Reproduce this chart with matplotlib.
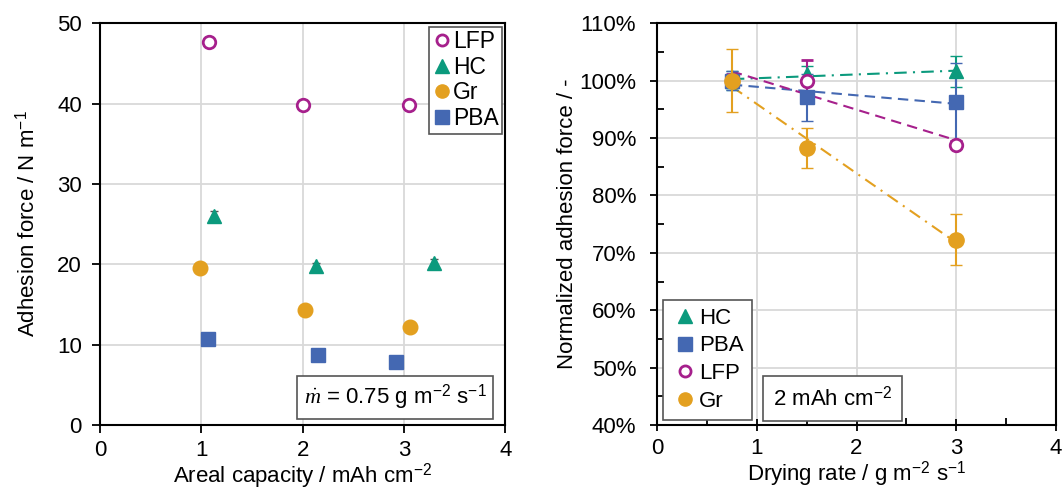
import numpy as np
import matplotlib
matplotlib.use("Agg")
import matplotlib.pyplot as plt
from matplotlib.lines import Line2D
from matplotlib.ticker import MultipleLocator, PercentFormatter

plt.rcParams['font.family'] = ['Liberation Sans', 'DejaVu Sans']
plt.rcParams['font.size'] = 16
plt.rcParams['mathtext.fontset'] = 'custom'
plt.rcParams['mathtext.rm'] = 'Liberation Sans'
plt.rcParams['mathtext.it'] = 'Liberation Serif:italic'

# colours
c_lfp = '#A6208C'
c_hc = '#0B9A7D'
c_gr = '#E3A020'
c_pba = '#4468B2'

# left panel: adhesion force vs areal capacity
lfp_cap = [1.08, 2.00, 3.05]
lfp_force = [47.6, 39.8, 39.8]
hc_cap = [1.12, 2.13, 3.30]
hc_force = [26.0, 19.8, 20.1]
hc_err = [0.6, 0.3, 0.5]
gr_cap = [0.99, 2.02, 3.06]
gr_force = [19.6, 14.3, 12.2]
pba_cap = [1.07, 2.15, 2.92]
pba_force = [10.7, 8.7, 7.9]

# right panel: normalized adhesion vs drying rate
rate = [0.75, 1.5, 3.0]
hc_norm = [100.0, 101.1, 101.6]
hc_norm_err = [1.6, 1.5, 2.7]
pba_norm = [100.0, 97.1, 96.3]
pba_norm_err = [1.7, 4.1, 6.8]
lfp_norm = [100.0, 100.0, 88.8]
lfp_norm_err = [1.2, 3.6, 0.6]
gr_norm = [100.0, 88.3, 72.3]
gr_norm_err = [5.5, 3.5, 4.5]

fig = plt.figure(figsize=(10.64, 4.92), dpi=100)
ax1 = fig.add_axes([0.094, 0.136, 0.381, 0.817])
ax2 = fig.add_axes([0.6175, 0.136, 0.375, 0.817])

for ax in (ax1, ax2):
    ax.grid(True, color='#d9d9d9', linewidth=1.3)
    ax.set_axisbelow(True)
    for s in ax.spines.values():
        s.set_linewidth(1.5)
        s.set_color('black')

ms = 9.5
ax1.errorbar(hc_cap, hc_force, yerr=hc_err, fmt='none', ecolor='#555555',
             elinewidth=1, capsize=3, zorder=2)
ax1.plot(lfp_cap, lfp_force, 'o', mfc='white', mec=c_lfp, mew=2, ms=ms - 0.5, zorder=3)
ax1.plot(hc_cap, hc_force, '^', color=c_hc, ms=ms, zorder=3)
ax1.plot(gr_cap, gr_force, 'o', color=c_gr, ms=ms + 1, zorder=3)
ax1.plot(pba_cap, pba_force, 's', color=c_pba, ms=ms, zorder=3)

ax1.set_xlim(0, 4)
ax1.set_ylim(0, 50)
ax1.xaxis.set_major_locator(MultipleLocator(1))
ax1.yaxis.set_major_locator(MultipleLocator(10))
ax1.tick_params(direction='out', length=6, width=1.3, pad=7)
ax1.tick_params(axis='x', pad=5)
ax1.set_xlabel('Areal capacity / mAh cm$^{-2}$', labelpad=0)
ax1.set_ylabel('Adhesion force / N m$^{-1}$', labelpad=13)


def handle(col, mk, hollow=False, size=ms):
    if hollow:
        return Line2D([], [], ls='none', marker=mk, mfc='white', mec=col, mew=2, ms=size - 1.5)
    return Line2D([], [], ls='none', marker=mk, color=col, ms=size)


h_lfp = handle(c_lfp, 'o', hollow=True)
h_hc = handle(c_hc, '^')
h_gr = handle(c_gr, 'o')
h_pba = handle(c_pba, 's')

leg1 = ax1.legend([h_lfp, h_hc, h_gr, h_pba], ['LFP', 'HC', 'Gr', 'PBA'], loc='upper right',
                  handletextpad=0.0, labelspacing=0.12, borderpad=0.15, handlelength=0.9,
                  fancybox=False, edgecolor='#555555', framealpha=1, borderaxespad=0.15,
                  fontsize=16.5)
leg1.get_frame().set_linewidth(1.2)
ax1.text(0.728, 0.069, r'$\dot{\mathit{m}}$ = 0.75 g m$^{-2}$ s$^{-1}$', transform=ax1.transAxes,
         ha='center', va='center', fontsize=16,
         bbox=dict(boxstyle='square,pad=0.3', fc='white', ec='#555555', lw=1.2))

# right panel with linear trend lines
xfit = np.array([min(rate), max(rate)])
series = [
    ('HC', hc_norm, hc_norm_err, c_hc, '^', (0, (6, 3, 1, 3))),
    ('PBA', pba_norm, pba_norm_err, c_pba, 's', (0, (5, 3))),
    ('LFP', lfp_norm, lfp_norm_err, c_lfp, 'o', (0, (5, 3))),
    ('Gr', gr_norm, gr_norm_err, c_gr, 'o', (0, (6, 3, 1, 3))),
]
for name, y, err, col, mk, ls in series:
    k, b = np.polyfit(rate, y, 1)
    ax2.plot(xfit, k * xfit + b, color=col, linestyle=ls, linewidth=1.5, zorder=2)
    if name == 'LFP':
        ax2.errorbar(rate, y, yerr=err, fmt=mk, mfc='white', mec=col, mew=2, ecolor=col,
                     elinewidth=1.5, capsize=4, ms=ms - 0.5, zorder=3)
    else:
        ax2.errorbar(rate, y, yerr=err, fmt=mk, color=col, ecolor=col,
                     elinewidth=1.5, capsize=4, ms=ms + (1.5 if name == 'Gr' else 0.5), zorder=3)

ax2.set_xlim(0, 4)
ax2.set_ylim(40, 110)
ax2.xaxis.set_major_locator(MultipleLocator(1))
ax2.xaxis.set_minor_locator(MultipleLocator(0.5))
ax2.yaxis.set_major_locator(MultipleLocator(10))
ax2.yaxis.set_minor_locator(MultipleLocator(5))
ax2.yaxis.set_major_formatter(PercentFormatter(decimals=0))
ax2.tick_params(axis='x', which='major', direction='inout', length=9, width=1.3, pad=5)
ax2.tick_params(axis='y', which='major', direction='out', length=5, width=1.3, pad=10)
ax2.tick_params(which='minor', direction='in', length=5, width=1.3)
ax2.set_xlabel('Drying rate / g m$^{-2}$ s$^{-1}$', labelpad=0)
ax2.set_ylabel('Normalized adhesion force / -', labelpad=1)
leg2 = ax2.legend([h_hc, h_pba, h_lfp, h_gr], ['HC', 'PBA', 'LFP', 'Gr'], loc='lower left',
                  handletextpad=0.0, labelspacing=0.3, borderpad=0.35, handlelength=1.3,
                  fancybox=False, edgecolor='#555555', framealpha=1, borderaxespad=0.25,
                  fontsize=16)
leg2.get_frame().set_linewidth(1.2)
ax2.text(0.44, 0.066, '2 mAh cm$^{-2}$', transform=ax2.transAxes, ha='center', va='center',
         fontsize=16, bbox=dict(boxstyle='square,pad=0.45', fc='white', ec='#555555', lw=1.2))

fig.savefig('out.png', dpi=100)
